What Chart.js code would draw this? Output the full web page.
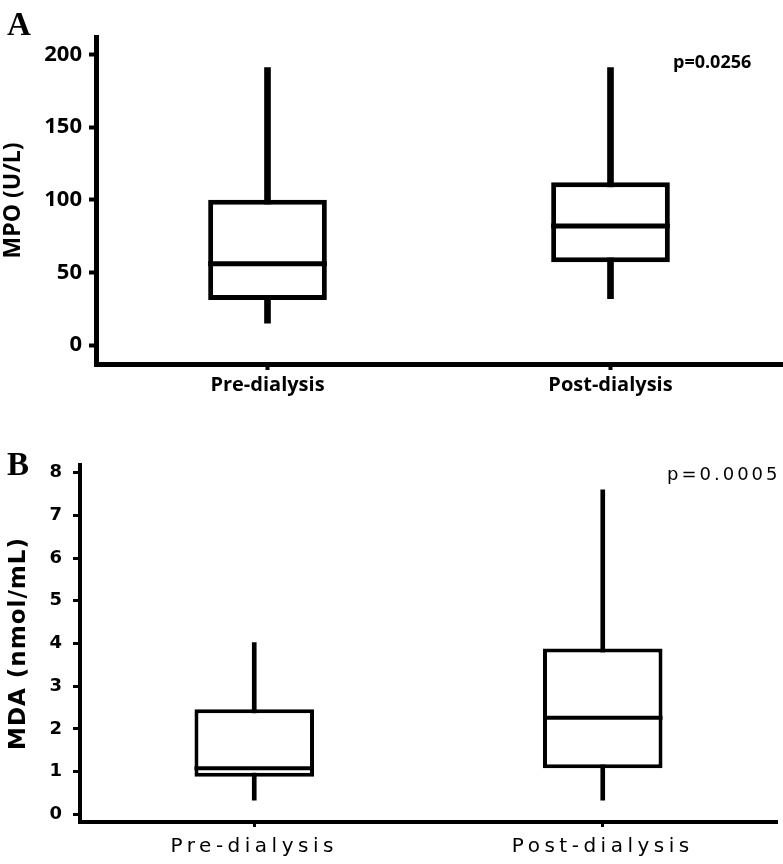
<!DOCTYPE html>
<html>
<head>
<meta charset="utf-8">
<title>MPO and MDA pre/post dialysis</title>
<script src="https://cdn.jsdelivr.net/npm/chart.js@4.4.0/dist/chart.umd.min.js"></script>
<style>
    body { margin: 0; background: #fff; }
    #wrap { position: relative; width: 783px; height: 864px; }
    canvas { position: absolute; left: 0; }
    #chartA { top: 0; }
    #chartB { top: 400px; }
</style>
</head>
<body>
<div id="wrap">
    <canvas id="chartA" width="783" height="400"></canvas>
    <canvas id="chartB" width="783" height="464"></canvas>
</div>
<script>
const categories = ['Pre-dialysis', 'Post-dialysis'];

// panel A - MPO (U/L)
const mpoMin = [15, 32];
const mpoQ1 = [31, 57];
const mpoMedian = [56, 82];
const mpoQ3 = [100, 112];
const mpoMax = [191, 191];
const mpoTicks = [0, 50, 100, 150, 200];

// panel B - MDA (nmol/mL)
const mdaMin = [0.33, 0.33];
const mdaQ1 = [0.88, 1.08];
const mdaMedian = [1.08, 2.26];
const mdaQ3 = [2.46, 3.88];
const mdaMax = [4.02, 7.6];
const mdaTicks = [0, 1, 2, 3, 4, 5, 6, 7, 8];

// median lines, p value and panel letter
const boxExtras = {
    id: 'boxExtras',
    beforeDraw: function(chart, args, opts) {
        chart.ctx.letterSpacing = opts.titleSpacing;
    },
    afterDatasetsDraw: function(chart, args, opts) {
        const ctx = chart.ctx;
        const yScale = chart.scales.y;
        const meta = chart.getDatasetMeta(0);
        ctx.save();
        ctx.strokeStyle = '#000';
        ctx.lineWidth = opts.medianWidth;
        meta.data.forEach(function(bar, i) {
            const p = bar.getProps(['x', 'width'], true);
            const y = yScale.getPixelForValue(opts.medians[i]);
            ctx.beginPath();
            ctx.moveTo(p.x - p.width / 2, y);
            ctx.lineTo(p.x + p.width / 2, y);
            ctx.stroke();
        });
        ctx.restore();
        ctx.letterSpacing = opts.labelSpacing;
    },
    afterDraw: function(chart, args, opts) {
        const ctx = chart.ctx;
        ctx.save();
        ctx.fillStyle = '#000';
        ctx.textAlign = 'left';
        ctx.textBaseline = 'alphabetic';
        ctx.letterSpacing = opts.pSpacing;
        ctx.font = opts.pFont;
        ctx.fillText(opts.pText, opts.pX, opts.pY);
        ctx.letterSpacing = '0px';
        ctx.font = 'bold 33px "Liberation Serif"';
        ctx.fillText(opts.panel, 7, opts.panelY);
        ctx.restore();
        ctx.letterSpacing = '0px';
    }
};

function boxChart(id, s) {
    const ctx = document.getElementById(id);
    new Chart(ctx, {
        type: 'bar',
        data: {
            labels: categories,
            datasets: [{
                label: 'box',
                data: s.q1.map(function(v, i) { return [v, s.q3[i]]; }),
                backgroundColor: '#fff',
                borderColor: '#000',
                borderWidth: s.line,
                borderSkipped: false,
                grouped: false,
                categoryPercentage: 1,
                barPercentage: s.boxPct
            }, {
                label: 'whisker',
                data: s.min.map(function(v, i) { return [v, s.max[i]]; }),
                backgroundColor: '#000',
                borderWidth: 0,
                grouped: false,
                barThickness: s.whisker
            }]
        },
        options: {
            responsive: false,
            animation: false,
            layout: { padding: { top: s.top, right: s.right, left: 0, bottom: 0 } },
            plugins: {
                legend: { display: false },
                tooltip: { enabled: false },
                boxExtras: {
                    medians: s.median,
                    medianWidth: s.line,
                    titleSpacing: s.titleSpacing,
                    labelSpacing: s.labelSpacing,
                    pText: s.pText, pFont: s.pFont, pSpacing: s.pSpacing, pX: s.pX, pY: s.pY,
                    panel: s.panel, panelY: s.panelY
                }
            },
            scales: {
                x: {
                    offset: true,
                    grid: { drawOnChartArea: false, offset: false, tickLength: s.xTick, tickWidth: s.axis - 1, tickColor: '#000' },
                    border: { display: true, color: '#000', width: s.axis },
                    ticks: { color: '#000', font: s.xFont, padding: s.xPad, maxRotation: 0, autoSkip: false, z: 1 },
                    afterFit: function(scale) { scale.height = s.xHeight; }
                },
                y: {
                    min: s.yMin,
                    max: s.yMax,
                    afterBuildTicks: function(scale) {
                        scale.ticks = s.ticks.map(function(v) { return { value: v }; });
                    },
                    grid: { drawOnChartArea: false, tickLength: 7, tickWidth: s.axis - 1, tickColor: '#000' },
                    border: { display: true, color: '#000', width: s.axis },
                    ticks: { color: '#000', font: s.yFont, padding: s.yPad },
                    title: { display: true, text: s.title, color: '#000', font: s.titleFont, padding: { top: s.titlePad, bottom: 0 } },
                    afterFit: function(scale) { scale.width = s.yWidth; }
                }
            }
        },
        plugins: [boxExtras]
    });
}

window.addEventListener('load', function() {
    boxChart('chartA', {
        min: mpoMin, q1: mpoQ1, median: mpoMedian, q3: mpoQ3, max: mpoMax, ticks: mpoTicks,
        yMin: -13.07, yMax: 212.1,
        line: 5, whisker: 6, axis: 5, boxPct: 0.346, xTick: 6,
        top: 37, right: 1, yWidth: 96, xHeight: 36,
        yFont: { family: 'Open Sans', weight: 'bold', size: 22 }, yPad: 7,
        xFont: { family: 'Open Sans', weight: 'bold', size: 20 }, xPad: 3,
        title: 'MPO (U/L)', titleFont: { family: 'Open Sans', weight: 'bold', size: 23 }, titlePad: 0,
        titleSpacing: '0px', labelSpacing: '0px',
        pText: 'p=0.0256', pFont: 'bold 18px "Open Sans"', pSpacing: '0px', pX: 673, pY: 68,
        panel: 'A', panelY: 35
    });
    boxChart('chartB', {
        min: mdaMin, q1: mdaQ1, median: mdaMedian, q3: mdaQ3, max: mdaMax, ticks: mdaTicks,
        yMin: -0.18, yMax: 8.18,
        line: 4, whisker: 4, axis: 4, boxPct: 0.343, xTick: 5,
        top: 65, right: 6, yWidth: 80, xHeight: 42,
        yFont: { family: 'DejaVu Sans', weight: 'bold', size: 18 }, yPad: 10,
        xFont: { family: 'DejaVu Sans', weight: 'normal', size: 20 }, xPad: 8,
        title: 'MDA (nmol/mL)', titleFont: { family: 'DejaVu Sans', weight: 'bold', size: 23 }, titlePad: 5,
        titleSpacing: '1px', labelSpacing: '4.5px',
        pText: 'p=0.0005', pFont: '18px "DejaVu Sans"', pSpacing: '3px', pX: 667, pY: 80,
        panel: 'B', panelY: 75
    });
});
</script>
</body>
</html>
